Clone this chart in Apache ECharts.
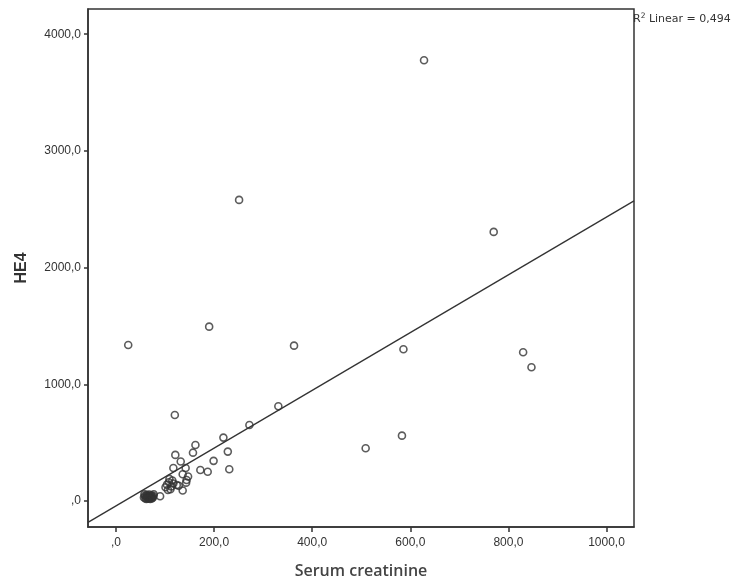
<!DOCTYPE html>
<html>
<head>
<meta charset="utf-8">
<script src="https://cdn.jsdelivr.net/npm/echarts@6/dist/echarts.min.js"></script>
<style>html,body{margin:0;padding:0;background:#fff}#c{width:737px;height:584px}</style>
</head>
<body>
<div id="c"></div>
<script>
// Serum creatinine (x) values
const creatinine = [
  25, 628, 770, 586, 830, 847, 583, 509, 251, 190, 363, 331, 272,
  120, 219, 162, 157, 228, 121, 132, 199, 117, 142, 172, 187, 231,
  147, 144, 136, 128, 136, 109, 101, 111, 124, 90, 143,
  104, 108, 113, 117, 106, 115,
  57, 59, 60, 62, 63, 64, 65, 66, 67, 68, 69, 70, 71, 72, 73, 74, 75, 76, 62, 70, 58, 77
];
// HE4 (y) values
const he4 = [
  1337, 3777, 2306, 1300, 1275, 1146, 560, 452, 2580, 1494, 1331, 812, 651,
  737, 543, 480, 414, 423, 395, 338, 344, 283, 283, 266, 250, 272,
  210, 180, 229, 131, 90, 189, 117, 100, 137, 40, 157,
  140, 160, 125, 150, 95, 175,
  30, 45, 22, 38, 52, 28, 42, 20, 35, 55, 25, 40, 30, 48, 22, 36, 28, 44, 18, 18, 58, 58
];
// Linear fit line endpoints (data units)
const fitX = [-57, 1056];
const fitY = [-183.6, 2572];
// Tick values
const xTicks = [0, 200, 400, 600, 800, 1000];
const yTicks = [0, 1000, 2000, 3000, 4000];
const r2Text = '0,494';

const fmt = v => (v === 0 ? ',0' : v + ',0');
const points = creatinine.map((x, i) => [x, he4[i]]);
const fitLine = fitX.map((x, i) => [x, fitY[i]]);

const chart = echarts.init(document.getElementById('c'), null, {renderer: 'canvas'});
chart.setOption({
  animation: false,
  backgroundColor: '#fff',
  grid: {left: 88, right: 103, top: 9, bottom: 57, show: true, borderColor: '#333', borderWidth: 1.5, backgroundColor: 'transparent'},
  xAxis: {
    type: 'value', min: -57, max: 1056,
    name: 'Serum creatinine', nameLocation: 'middle', nameGap: 36,
    nameTextStyle: {fontFamily: 'Open Sans', fontWeight: 600, fontSize: 16, color: '#444'},
    splitLine: {show: false},
    axisLine: {show: true, onZero: false, lineStyle: {color: '#333', width: 1.5}},
    axisTick: {show: true, length: 5, customValues: xTicks, lineStyle: {color: '#333', width: 1.5}},
    axisLabel: {customValues: xTicks, formatter: fmt, margin: 10, fontFamily: 'Liberation Sans', fontSize: 12, color: '#333'}
  },
  yAxis: {
    type: 'value', min: -223, max: 4216,
    name: 'HE4', nameLocation: 'middle', nameGap: 58, nameRotate: 90,
    nameTextStyle: {fontFamily: 'Liberation Sans', fontWeight: 'bold', fontSize: 16, color: '#333'},
    splitLine: {show: false},
    axisLine: {show: true, onZero: false, lineStyle: {color: '#333', width: 1.5}},
    axisTick: {show: true, length: 4, customValues: yTicks, lineStyle: {color: '#333', width: 1.5}},
    axisLabel: {customValues: yTicks, formatter: fmt, margin: 7, fontFamily: 'Liberation Sans', fontSize: 12, color: '#333'}
  },
  series: [
    {
      type: 'line', data: fitLine, symbol: 'none', silent: true,
      lineStyle: {color: '#333', width: 1.3}, z: 1
    },
    {
      type: 'scatter', data: points, symbol: 'circle', symbolSize: 7,
      itemStyle: {color: 'rgba(0,0,0,0)', borderColor: '#333', borderWidth: 1.6}, z: 2
    }
  ],
  graphic: [{
    type: 'text', left: 633, top: 12,
    style: {
      text: '{r|R}{s|2}{r| Linear = ' + r2Text + '}',
      rich: {
        r: {fontFamily: 'DejaVu Sans', fontSize: 11, fill: '#333', verticalAlign: 'bottom'},
        s: {fontFamily: 'DejaVu Sans', fontSize: 7.5, fill: '#333', verticalAlign: 'top', padding: [0, 0, 5, 0]}
      }
    }
  }]
});
</script>
</body>
</html>
